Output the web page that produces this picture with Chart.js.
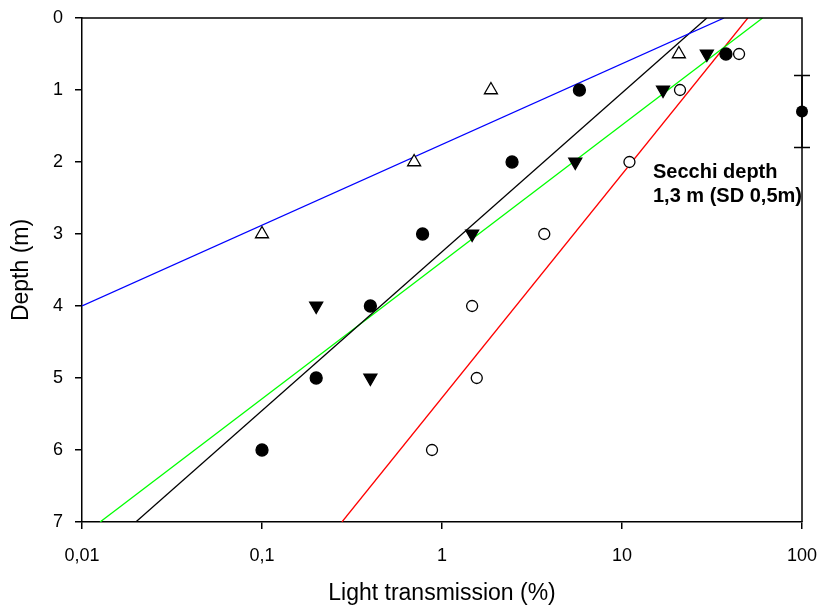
<!DOCTYPE html>
<html>
<head>
<meta charset="utf-8">
<script src="https://cdn.jsdelivr.net/npm/chart.js@4.4.1/dist/chart.umd.min.js"></script>
<style>
	body { margin: 0; background: #fff; }
	#wrap { width: 822px; height: 608px; }
</style>
</head>
<body>
<div id="wrap"><canvas id="chart"></canvas></div>
<script>
'use strict';

// sampling depths (m)
const depths = [0.5, 1, 2, 3, 4, 5, 6];

// light transmission (%) per profile
const filledCircles = [37.8, 5.8, 2.45, 0.78, 0.40, 0.20, 0.10];
const openCircles = [44.7, 21, 11, 3.7, 1.47, 1.56, 0.88];
const downTriangles = [29.6, 16.9, 5.5, 1.47, 0.20, 0.40];
const upTriangles = [20.7, 1.87, 0.70, 0.10];

// fitted lines, [transmission, depth] end points
const blueFit = [[0.01, 4], [36.9, 0]];
const blackFit = [[0.0199, 7], [29.6, 0]];
const greenFit = [[0.0126, 7], [60.4, 0]];
const redFit = [[0.278, 7], [50, 0]];

// Secchi depth
const secchiX = 100;
const secchiMean = 1.3;
const secchiSD = 0.5;

const xTickValues = [0.01, 0.1, 1, 10, 100];
const xTickLabels = ['0,01', '0,1', '1', '10', '100'];

const fontFamily = '"Liberation Sans", Arial, sans-serif';

function toPoints(xs, ys) {
	return xs.map((x, i) => ({ x: x, y: ys[i] }));
}

function fitLine(pts, color) {
	return {
		type: 'line',
		data: pts.map(p => ({ x: p[0], y: p[1] })),
		borderColor: color,
		borderWidth: 1.3,
		pointRadius: 0,
		fill: false,
		order: 2
	};
}

function markers(data, style, filled, radius, rotation) {
	return {
		type: 'scatter',
		data: data,
		pointStyle: style,
		pointRadius: radius,
		pointHoverRadius: radius,
		pointRotation: rotation || 0,
		pointBackgroundColor: filled ? '#000' : '#fff',
		pointBorderColor: '#000',
		pointBorderWidth: 1.3,
		order: 1
	};
}

/**
 * Draws the frame on top/right, the Secchi error bar and its label
 */
const extras = {
	id: 'extras',
	afterDatasetsDraw(chart) {
		const ctx = chart.ctx;
		const area = chart.chartArea;
		const xs = chart.scales.x;
		const ys = chart.scales.y;

		ctx.save();
		ctx.strokeStyle = '#000';
		ctx.lineWidth = 1.5;
		ctx.beginPath();
		ctx.moveTo(area.left, area.top);
		ctx.lineTo(area.right, area.top);
		ctx.lineTo(area.right, area.bottom);
		ctx.stroke();

		// error bar
		const px = xs.getPixelForValue(secchiX);
		const top = ys.getPixelForValue(secchiMean - secchiSD);
		const bot = ys.getPixelForValue(secchiMean + secchiSD);
		ctx.lineWidth = 1.5;
		ctx.beginPath();
		ctx.moveTo(px, top);
		ctx.lineTo(px, bot);
		ctx.moveTo(px - 8, top);
		ctx.lineTo(px + 8, top);
		ctx.moveTo(px - 8, bot);
		ctx.lineTo(px + 8, bot);
		ctx.stroke();
		ctx.beginPath();
		ctx.arc(px, ys.getPixelForValue(secchiMean), 6, 0, Math.PI * 2);
		ctx.fillStyle = '#000';
		ctx.fill();

		ctx.font = 'bold 20px ' + fontFamily;
		ctx.textAlign = 'left';
		ctx.textBaseline = 'alphabetic';
		ctx.fillText('Secchi depth', area.right - 149, 178);
		ctx.fillText('1,3 m (SD 0,5m)', area.right - 149, 202);
		ctx.restore();
	}
};

new Chart(document.getElementById('chart'), {
	type: 'scatter',
	data: {
		datasets: [
			fitLine(blueFit, '#0000ff'),
			fitLine(blackFit, '#000000'),
			fitLine(greenFit, '#00ff00'),
			fitLine(redFit, '#ff0000'),
			markers(toPoints(upTriangles, depths), 'triangle', false, 7.5, 0),
			markers(toPoints(downTriangles, depths), 'triangle', true, 7.5, 180),
			markers(toPoints(openCircles, depths), 'circle', false, 5.5),
			markers(toPoints(filledCircles, depths), 'circle', true, 6)
		]
	},
	options: {
		responsive: true,
		maintainAspectRatio: false,
		animation: false,
		events: [],
		layout: {
			padding: { top: 18, right: 20, left: 0, bottom: 0 }
		},
		plugins: {
			legend: { display: false },
			tooltip: { enabled: false }
		},
		scales: {
			x: {
				type: 'logarithmic',
				position: 'bottom',
				min: 0.01,
				max: 100,
				afterBuildTicks: function (scale) {
					scale.ticks = xTickValues.map(v => ({ value: v }));
				},
				afterFit: function (scale) {
					scale.height = 86;
					scale.paddingLeft = 0;
					scale.paddingRight = 0;
				},
				ticks: {
					color: '#000',
					padding: 16,
					font: { family: fontFamily, size: 18 },
					callback: function (value) {
						const i = xTickValues.indexOf(value);
						return i >= 0 ? xTickLabels[i] : '';
					}
				},
				grid: {
					drawOnChartArea: false,
					color: '#000',
					lineWidth: 1.5,
					tickLength: 7
				},
				border: { color: '#000', width: 1.5 },
				title: {
					display: true,
					text: 'Light transmission (%)',
					color: '#000',
					font: { family: fontFamily, size: 23 },
					padding: { top: 0, bottom: 1 }
				}
			},
			y: {
				reverse: true,
				min: 0,
				max: 7,
				afterFit: function (scale) {
					scale.width = 82;
					scale.paddingTop = 0;
					scale.paddingBottom = 0;
				},
				ticks: {
					stepSize: 1,
					color: '#000',
					padding: 12,
					font: { family: fontFamily, size: 18 }
				},
				grid: {
					drawOnChartArea: false,
					color: '#000',
					lineWidth: 1.5,
					tickLength: 7
				},
				border: { color: '#000', width: 1.5 },
				title: {
					display: true,
					text: 'Depth (m)',
					color: '#000',
					font: { family: fontFamily, size: 23 },
					padding: { top: 8, bottom: 0 }
				}
			}
		}
	},
	plugins: [extras]
});
</script>
</body>
</html>
